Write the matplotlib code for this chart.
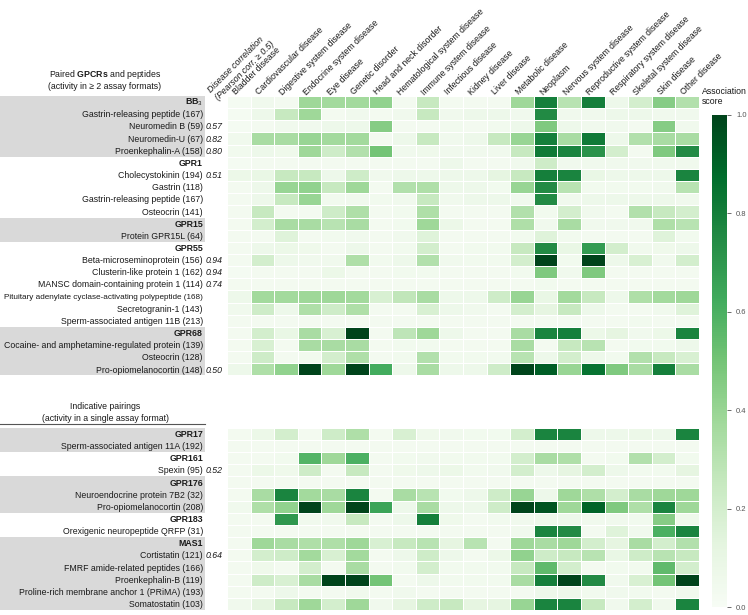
import matplotlib.pyplot as plt
import numpy as np
from matplotlib.patches import Rectangle
from matplotlib.transforms import blended_transform_factory

plt.rcParams['font.family'] = ['Liberation Sans', 'DejaVu Sans']
plt.rcParams['mathtext.fontset'] = 'custom'
plt.rcParams['mathtext.rm'] = 'Liberation Sans'
plt.rcParams['mathtext.bf'] = 'Liberation Sans:bold'

diseases = ['Bladder disease', 'Cardiovascular disease', 'Digestive system disease',
            'Endocrine system disease', 'Eye disease', 'Genetic disorder',
            'Head and neck disorder', 'Hematological system disease', 'Immune system disease',
            'Infectious disease', 'Kidney disease', 'Liver disease', 'Metabolic disease',
            'Neoplasm', 'Nervous system disease', 'Reproductive system disease',
            'Respiratory system disease', 'Skeletal system disease', 'Skin disease',
            'Other disease']

# top block: paired GPCRs and peptides
top_labels = ['BB$_3$', 'Gastrin-releasing peptide (167)', 'Neuromedin B (59)',
              'Neuromedin-U (67)', 'Proenkephalin-A (158)',
              'GPR1', 'Cholecystokinin (194)', 'Gastrin (118)',
              'Gastrin-releasing peptide (167)', 'Osteocrin (141)',
              'GPR15', 'Protein GPR15L (64)',
              'GPR55', 'Beta-microseminoprotein (156)', 'Clusterin-like protein 1 (162)',
              'MANSC domain-containing protein 1 (114)',
              'Pituitary adenylate cyclase-activating polypeptide (168)',
              'Secretogranin-1 (143)', 'Sperm-associated antigen 11B (213)',
              'GPR68', 'Cocaine- and amphetamine-regulated protein (139)',
              'Osteocrin (128)', 'Pro-opiomelanocortin (148)']
# bottom block: indicative pairings
bottom_labels = ['GPR17', 'Sperm-associated antigen 11A (192)',
                 'GPR161', 'Spexin (95)',
                 'GPR176', 'Neuroendocrine protein 7B2 (32)', 'Pro-opiomelanocortin (208)',
                 'GPR183', 'Orexigenic neuropeptide QRFP (31)',
                 'MAS1', 'Cortistatin (121)', 'FMRF amide-related peptides (166)',
                 'Proenkephalin-B (119)', 'Proline-rich membrane anchor 1 (PRiMA) (193)',
                 'Somatostatin (103)']

# receptor groups (first row index, number of rows, shaded)
top_groups = [(0, 5, True), (5, 5, False), (10, 2, True), (12, 7, False), (19, 4, True)]
bottom_groups = [(0, 2, True), (2, 2, False), (4, 3, True), (7, 2, False), (9, 6, True)]

top_corr = {2: '0.57', 3: '0.82', 4: '0.80', 6: '0.51', 13: '0.94', 14: '0.94',
            15: '0.74', 22: '0.50'}
bottom_corr = {3: '0.52', 10: '0.64'}

top_scores = [
    [0.02, 0.05, 0.03, 0.38, 0.37, 0.37, 0.42, 0.03, 0.25, 0.03, 0.03, 0.03, 0.38, 0.80, 0.30, 0.80, 0.07, 0.20, 0.45, 0.32],
    [0.02, 0.07, 0.25, 0.38, 0.03, 0.05, 0.03, 0.05, 0.25, 0.05, 0.07, 0.07, 0.05, 0.75, 0.05, 0.05, 0.07, 0.07, 0.05, 0.05],
    [0.02, 0.03, 0.05, 0.05, 0.07, 0.07, 0.45, 0.03, 0.03, 0.04, 0.03, 0.04, 0.07, 0.47, 0.07, 0.05, 0.05, 0.03, 0.45, 0.05],
    [0.05, 0.35, 0.35, 0.40, 0.37, 0.37, 0.03, 0.07, 0.25, 0.05, 0.07, 0.25, 0.40, 0.80, 0.35, 0.82, 0.07, 0.32, 0.35, 0.35],
    [0.04, 0.07, 0.06, 0.38, 0.22, 0.32, 0.50, 0.05, 0.06, 0.05, 0.05, 0.05, 0.25, 0.82, 0.78, 0.72, 0.20, 0.03, 0.47, 0.75],
    [0.02, 0.03, 0.03, 0.03, 0.03, 0.03, 0.03, 0.03, 0.03, 0.07, 0.03, 0.03, 0.05, 0.22, 0.05, 0.05, 0.05, 0.05, 0.05, 0.05],
    [0.08, 0.10, 0.25, 0.25, 0.07, 0.22, 0.05, 0.07, 0.07, 0.07, 0.07, 0.12, 0.25, 0.80, 0.78, 0.10, 0.07, 0.07, 0.07, 0.78],
    [0.03, 0.07, 0.40, 0.42, 0.25, 0.38, 0.03, 0.32, 0.33, 0.07, 0.07, 0.04, 0.40, 0.75, 0.30, 0.04, 0.04, 0.04, 0.05, 0.30],
    [0.03, 0.07, 0.25, 0.40, 0.04, 0.05, 0.04, 0.05, 0.25, 0.05, 0.07, 0.07, 0.05, 0.75, 0.05, 0.07, 0.07, 0.07, 0.07, 0.05],
    [0.03, 0.25, 0.03, 0.03, 0.22, 0.33, 0.03, 0.04, 0.33, 0.03, 0.03, 0.03, 0.32, 0.04, 0.20, 0.05, 0.03, 0.32, 0.25, 0.20],
    [0.03, 0.20, 0.35, 0.35, 0.30, 0.35, 0.03, 0.04, 0.38, 0.08, 0.03, 0.03, 0.33, 0.05, 0.35, 0.05, 0.05, 0.05, 0.33, 0.30],
    [0.03, 0.03, 0.15, 0.03, 0.04, 0.05, 0.03, 0.05, 0.15, 0.03, 0.03, 0.03, 0.04, 0.15, 0.04, 0.03, 0.03, 0.03, 0.15, 0.04],
    [0.03, 0.07, 0.08, 0.06, 0.03, 0.07, 0.03, 0.04, 0.20, 0.03, 0.04, 0.04, 0.25, 0.75, 0.10, 0.68, 0.20, 0.05, 0.06, 0.07],
    [0.03, 0.20, 0.07, 0.05, 0.05, 0.33, 0.04, 0.07, 0.32, 0.05, 0.04, 0.04, 0.20, 1.00, 0.04, 1.00, 0.07, 0.18, 0.05, 0.20],
    [0.02, 0.03, 0.03, 0.03, 0.08, 0.03, 0.03, 0.04, 0.04, 0.03, 0.03, 0.03, 0.04, 0.47, 0.05, 0.47, 0.03, 0.03, 0.03, 0.03],
    [0.03, 0.03, 0.03, 0.03, 0.03, 0.03, 0.03, 0.03, 0.03, 0.03, 0.03, 0.03, 0.03, 0.04, 0.03, 0.03, 0.03, 0.03, 0.03, 0.03],
    [0.07, 0.37, 0.37, 0.38, 0.38, 0.37, 0.18, 0.27, 0.35, 0.07, 0.07, 0.22, 0.40, 0.10, 0.37, 0.25, 0.07, 0.33, 0.37, 0.38],
    [0.05, 0.22, 0.07, 0.33, 0.22, 0.33, 0.03, 0.03, 0.18, 0.07, 0.05, 0.03, 0.20, 0.12, 0.25, 0.07, 0.03, 0.03, 0.05, 0.15],
    [0.03, 0.03, 0.03, 0.03, 0.03, 0.03, 0.03, 0.03, 0.03, 0.03, 0.03, 0.03, 0.03, 0.03, 0.03, 0.03, 0.03, 0.04, 0.03, 0.03],
    [0.03, 0.20, 0.10, 0.35, 0.18, 1.00, 0.03, 0.28, 0.38, 0.07, 0.03, 0.03, 0.35, 0.78, 0.80, 0.08, 0.12, 0.05, 0.08, 0.78],
    [0.03, 0.18, 0.03, 0.35, 0.35, 0.35, 0.03, 0.04, 0.04, 0.03, 0.03, 0.03, 0.35, 0.03, 0.25, 0.30, 0.03, 0.04, 0.04, 0.07],
    [0.03, 0.22, 0.03, 0.04, 0.20, 0.33, 0.03, 0.04, 0.32, 0.04, 0.04, 0.04, 0.30, 0.07, 0.20, 0.07, 0.04, 0.32, 0.25, 0.18],
    [0.07, 0.33, 0.42, 1.00, 0.38, 1.00, 0.62, 0.07, 0.35, 0.07, 0.07, 0.22, 1.00, 0.92, 0.40, 0.85, 0.47, 0.35, 0.80, 0.35],
]

bottom_scores = [
    [0.03, 0.08, 0.20, 0.03, 0.22, 0.33, 0.03, 0.18, 0.06, 0.05, 0.04, 0.04, 0.20, 0.78, 0.78, 0.07, 0.07, 0.08, 0.07, 0.78],
    [0.03, 0.03, 0.03, 0.03, 0.03, 0.03, 0.03, 0.03, 0.03, 0.03, 0.03, 0.03, 0.03, 0.03, 0.03, 0.03, 0.03, 0.03, 0.03, 0.03],
    [0.03, 0.03, 0.04, 0.58, 0.38, 0.60, 0.03, 0.04, 0.05, 0.04, 0.04, 0.04, 0.20, 0.35, 0.33, 0.03, 0.04, 0.32, 0.20, 0.04],
    [0.03, 0.08, 0.06, 0.22, 0.03, 0.25, 0.03, 0.06, 0.07, 0.08, 0.04, 0.05, 0.20, 0.07, 0.12, 0.20, 0.07, 0.04, 0.04, 0.12],
    [0.03, 0.03, 0.03, 0.03, 0.03, 0.03, 0.03, 0.03, 0.03, 0.03, 0.03, 0.03, 0.03, 0.03, 0.03, 0.03, 0.03, 0.03, 0.03, 0.03],
    [0.03, 0.35, 0.78, 0.37, 0.35, 0.78, 0.03, 0.35, 0.30, 0.04, 0.07, 0.22, 0.40, 0.07, 0.38, 0.33, 0.20, 0.35, 0.38, 0.38],
    [0.05, 0.33, 0.42, 1.00, 0.38, 1.00, 0.65, 0.07, 0.35, 0.07, 0.07, 0.22, 1.00, 0.95, 0.38, 0.90, 0.47, 0.33, 0.78, 0.38],
    [0.03, 0.03, 0.70, 0.05, 0.05, 0.25, 0.03, 0.07, 0.80, 0.06, 0.03, 0.04, 0.05, 0.07, 0.07, 0.05, 0.05, 0.04, 0.45, 0.06],
    [0.03, 0.03, 0.03, 0.03, 0.03, 0.03, 0.03, 0.03, 0.03, 0.03, 0.03, 0.03, 0.05, 0.78, 0.75, 0.03, 0.15, 0.05, 0.60, 0.78],
    [0.03, 0.38, 0.35, 0.33, 0.33, 0.38, 0.18, 0.25, 0.30, 0.12, 0.30, 0.03, 0.38, 0.35, 0.38, 0.20, 0.12, 0.35, 0.20, 0.32],
    [0.03, 0.20, 0.22, 0.37, 0.18, 0.37, 0.03, 0.07, 0.22, 0.07, 0.03, 0.08, 0.42, 0.22, 0.25, 0.30, 0.10, 0.22, 0.30, 0.25],
    [0.03, 0.06, 0.03, 0.20, 0.03, 0.35, 0.03, 0.04, 0.20, 0.04, 0.04, 0.04, 0.25, 0.55, 0.20, 0.03, 0.04, 0.04, 0.55, 0.20],
    [0.03, 0.22, 0.18, 0.35, 1.00, 1.00, 0.50, 0.03, 0.07, 0.04, 0.04, 0.04, 0.35, 0.80, 1.00, 0.75, 0.05, 0.18, 0.50, 1.00],
    [0.03, 0.03, 0.07, 0.03, 0.03, 0.05, 0.03, 0.05, 0.03, 0.03, 0.03, 0.03, 0.03, 0.07, 0.07, 0.04, 0.05, 0.04, 0.03, 0.05],
    [0.05, 0.12, 0.25, 0.38, 0.20, 0.38, 0.05, 0.12, 0.22, 0.25, 0.12, 0.12, 0.40, 0.78, 0.78, 0.25, 0.05, 0.20, 0.05, 0.78],
]

gap = 4.3
fs = 6.3
txt_col = '#1a1a1a'

fig = plt.figure(figsize=(7.48, 6.15), dpi=100)
ax = fig.add_axes([227 / 748, 5 / 615, 472 / 748, 514 / 615])
cax = fig.add_axes([712 / 748, 8 / 615, 15 / 748, 492 / 615])

n_top = len(top_labels)
n_bot = len(bottom_labels)
xe = np.arange(len(diseases) + 1)
mesh = ax.pcolormesh(xe, np.arange(n_top + 1), np.array(top_scores), cmap='Greens',
                     vmin=0, vmax=1, edgecolors='white', linewidth=0.7)
ax.pcolormesh(xe, np.arange(n_bot + 1) + n_top + gap, np.array(bottom_scores), cmap='Greens',
              vmin=0, vmax=1, edgecolors='white', linewidth=0.7)
ax.set_xlim(0, len(diseases))
ax.set_ylim(n_top + n_bot + gap, 0)
ax.axis('off')

tr = blended_transform_factory(fig.transFigure, ax.transData)

sections = [(top_labels, top_groups, top_corr, 0,
             ['Paired $\\mathbf{GPCRs}$ and peptides', '(activity in ≥ 2 assay formats)']),
            (bottom_labels, bottom_groups, bottom_corr, n_top + gap,
             ['Indicative pairings', '(activity in a single assay format)'])]

for labels, groups, corr, y0, heading in sections:
    for start, size, shaded in groups:
        if shaded:
            ax.add_patch(Rectangle((0, y0 + start), 205 / 748, size, transform=tr,
                                   facecolor='#d9d9d9', edgecolor='none', clip_on=False, zorder=0))
        for k in range(start, start + size):
            lab = labels[k]
            kw = dict(fontsize=fs, color=txt_col)
            if k == start:
                kw['fontweight'] = 'bold'
            if lab.startswith('Pituitary'):
                kw['fontsize'] = 5.9
            ax.text(203 / 748, y0 + k + 0.55, lab, transform=tr, ha='right', va='center', **kw)
    for k, c in corr.items():
        ax.text(206 / 748, y0 + k + 0.55, c, transform=tr, ha='left', va='center',
                fontsize=fs, style='italic', color=txt_col)
    ax.text(105 / 748, y0 - 1.75, heading[0], transform=tr, ha='center', va='center',
            fontsize=fs, color=txt_col)
    ax.text(105 / 748, y0 - 0.75, heading[1], transform=tr, ha='center', va='center',
            fontsize=fs, color=txt_col)

# separator above the indicative pairings block
ax.plot([0, 205 / 748], [n_top + gap - 0.33] * 2, transform=tr, color='#555555',
        lw=0.8, clip_on=False)

for j, d in enumerate(diseases):
    ax.text(j + 0.3, -0.2, d, rotation=45, rotation_mode='anchor', ha='left', va='center',
            fontsize=fs, color=txt_col)
ax.text(-0.6, -0.1, 'Disease correlation\n(Pearson corr. ≥ 0.5)', rotation=45,
        rotation_mode='anchor', ha='left', va='center', fontsize=fs, color=txt_col,
        style='italic')

cb = fig.colorbar(mesh, cax=cax)
cb.outline.set_visible(False)
cb.set_ticks([0, 0.2, 0.4, 0.6, 0.8, 1.0])
cax.tick_params(labelsize=5.5, length=3, width=0.6, colors='#555555')
fig.text(702 / 748, 1 - 87 / 615, 'Association\nscore', ha='left', va='top',
         fontsize=fs, color=txt_col)

fig.savefig('out.png', dpi=100)
